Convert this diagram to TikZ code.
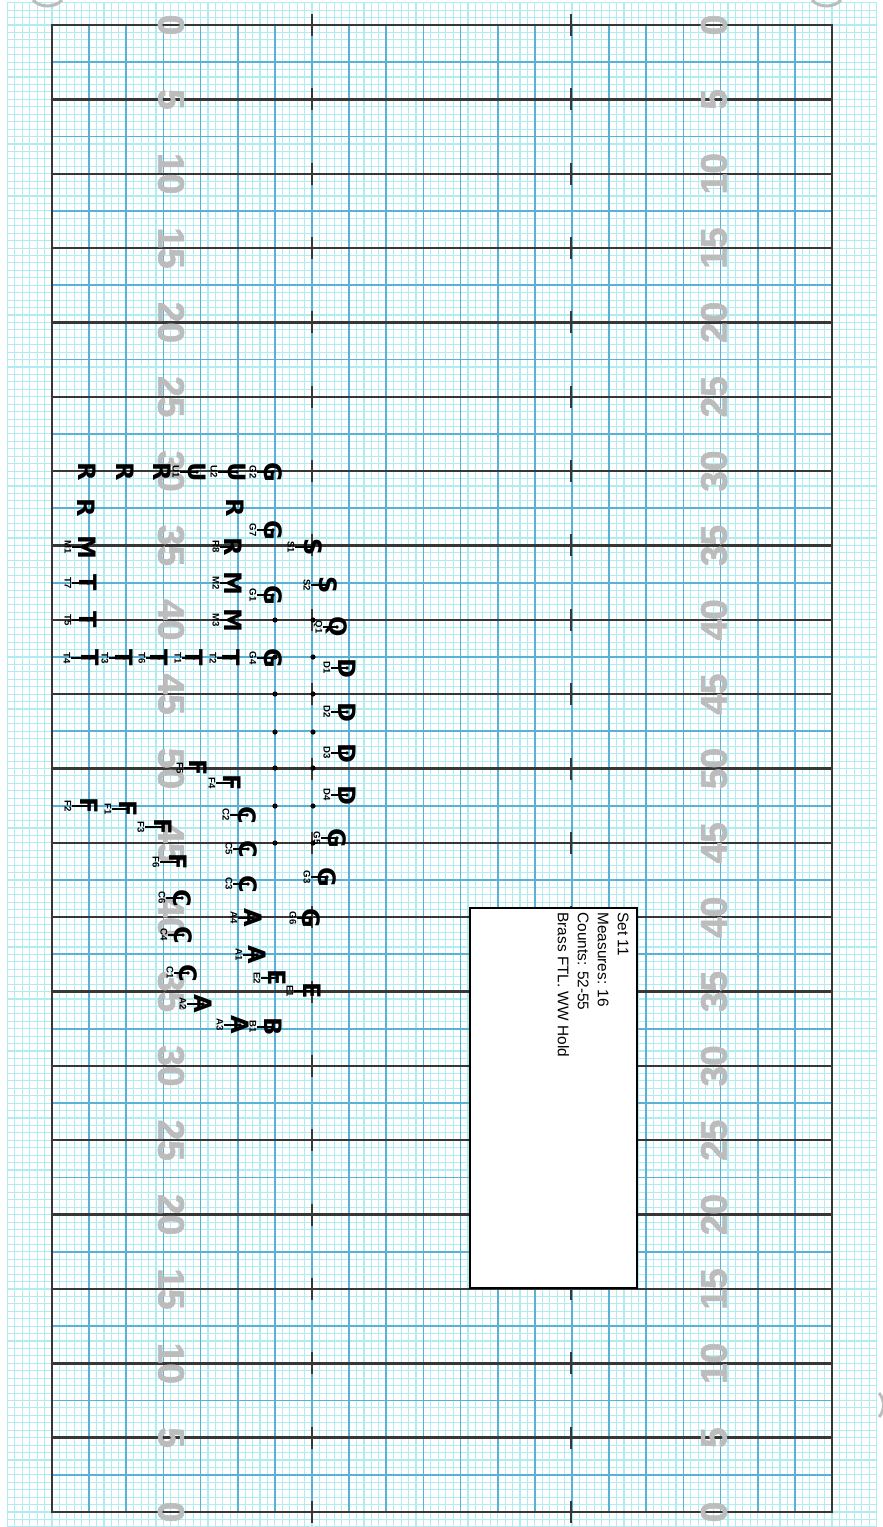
\documentclass[tikz,border=0pt]{standalone}
\usepackage{fontspec}
\setmainfont{Liberation Sans}
\newfontfamily\heavyfont{DejaVu Sans}
\newfontfamily\numfont[FakeBold=1.6]{Liberation Sans Bold}
\definecolor{finec}{RGB}{178,236,243}
\definecolor{bluec}{RGB}{88,178,214}
\definecolor{darkc}{RGB}{55,55,55}
\definecolor{numgray}{RGB}{188,188,188}
\newcommand\perfm[6]{% name, x, y, letter, label x, label
  \node[lab] (#1l) at (#5,#3) {#6};
  \draw[lead] (#1l.north) -- (#2,#3);
  \node[letter] (#1) at (#2,#3) {#4};
  \node[cdot] (#1d) at (#2,#3) {};
}
\newcommand\perfn[4]{% name, x, y, letter
  \node[letter] (#1) at (#2,#3) {#4};
}
\begin{document}
\begin{tikzpicture}[x=0.5pt,y=-0.5pt,
  finel/.style={draw=finec,line width=0.55pt},
  bluel/.style={draw=bluec,line width=0.9pt},
  darkl/.style={draw=darkc,line width=1.2pt},
  ynum/.style={text=numgray,font=\numfont\fontsize{18.5}{20}\selectfont,inner sep=0},
  letter/.style={font=\heavyfont\fontsize{12}{12}\selectfont\bfseries,rotate=-90,inner sep=0},
  lab/.style={font=\fontsize{4.8}{5}\selectfont\bfseries,rotate=-90,inner sep=0.3pt},
  lead/.style={draw=black,line width=0.55pt},
  gdot/.style={circle,fill=black,inner sep=0,minimum size=2.6pt},
  cdot/.style={circle,fill=black,inner sep=0,minimum size=1.8pt}
]
\useasboundingbox (0,0) rectangle (883,1527);
\fill[white] (0,0) rectangle (883,1527);
% fine grid
\foreach \k in {-6,...,111} \draw[finel] ({52+\k*37.143/5},3) -- ({52+\k*37.143/5},1527);
\foreach \k in {-3,...,202} \draw[finel] (7,{25+\k*37.175/5}) -- (877,{25+\k*37.175/5});
% field grid
\foreach \k in {1,...,20} \draw[bluel] ({52+\k*37.143},25) -- ({52+\k*37.143},1512);
\foreach \k in {1,3,...,39} \draw[bluel] (52,{25+\k*37.175}) -- (832,{25+\k*37.175});
\foreach \k in {2,4,...,38} \draw[darkl] (52,{25+\k*37.175}) -- (832,{25+\k*37.175});
\draw[darkl] (52,25) rectangle (832,1512);
% hash marks
\foreach \k in {0,2,...,40} {
  \draw[darkl,line width=1.3pt] (312,{25+\k*37.175-11}) -- ++(0,22);
  \draw[darkl,line width=1.3pt] (571,{25+\k*37.175-11}) -- ++(0,22);
}
% yard numbers
\foreach \n [count=\i from 0] in {0,5,10,15,20,25,30,35,40,45,50,45,40,35,30,25,20,15,10,5,0} {
  \node[ynum,rotate=-90] (nl\i) at (171,{25+\i*74.35}) {\n};
  \node[ynum,rotate=90] (nr\i) at (714,{25+\i*74.35}) {\n};
}
% corner marks
\draw[numgray,line width=1.5pt] (33,0) .. controls (40,8) and (55,8) .. (62,0);
\draw[numgray,line width=1.5pt] (812,0) .. controls (819,8) and (834,8) .. (841,0);
\draw[numgray,line width=1.5pt] (879,1393) .. controls (885,1400) and (885,1410) .. (879,1417);
% grid dots
\foreach \yy [count=\j] in {620,657,694,732,768,806,843} {
  \node[gdot] (da\j) at (275,\yy) {};
  \node[gdot] (db\j) at (313,\yy) {};
}
% performers
\perfn{r1}{87}{472}{R}
\perfn{r2}{125}{472}{R}
\perfn{r3}{162}{472}{R}
\perfm{U1}{197}{472}{U}{176}{U1}
\perfm{U2}{237}{472}{U}{214}{U2}
\perfm{G2}{273}{472}{G}{253}{G2}
\perfn{r4}{86}{508}{R}
\perfn{r5}{235}{508}{R}
\perfm{G7}{273}{530}{G}{253}{G7}
\perfm{M1}{87}{547}{M}{68}{M1}
\perfm{R8}{233}{547}{R}{216}{R8}
\perfm{S1}{313}{547}{S}{291}{S1}
\perfm{T7}{88}{583}{T}{68}{T7}
\perfm{M2}{233}{583}{M}{216}{M2}
\perfm{S2}{328}{585}{S}{307}{S2}
\perfm{G1}{273}{595}{G}{253}{G1}
\perfm{T5}{88}{620}{T}{68}{T5}
\perfm{M3}{233}{620}{M}{216}{M3}
\perfm{Q1}{337}{627}{Q}{318}{Q1}
\perfm{T4}{90}{658}{T}{67}{T4}
\perfm{T3}{124}{658}{T}{105}{T3}
\perfm{T6}{159}{658}{T}{142}{T6}
\perfm{T1}{194}{658}{T}{178}{T1}
\perfm{T2}{231}{658}{T}{213}{T2}
\perfm{G4}{273}{658}{G}{253}{G4}
\perfm{D1}{347}{668}{D}{327}{D1}
\perfm{D2}{347}{712}{D}{327}{D2}
\perfm{D3}{347}{753}{D}{327}{D3}
\perfm{D4}{347}{795}{D}{327}{D4}
\perfm{F5}{198}{768}{F}{180}{F5}
\perfm{F4}{232}{783}{F}{212}{F4}
\perfm{F2}{89}{806}{F}{68}{F2}
\perfm{F1}{128}{809}{F}{108}{F1}
\perfm{F3}{163}{827}{F}{141}{F3}
\perfm{F6}{178}{862}{F}{156}{F6}
\perfm{C2}{247}{815}{C}{226}{C2}
\perfm{C5}{248}{849}{C}{229}{C5}
\perfm{C3}{248}{884}{C}{229}{C3}
\perfm{C6}{182}{898}{C}{162}{C6}
\perfm{C4}{183}{935}{C}{164}{C4}
\perfm{C1}{188}{973}{C}{170}{C1}
\perfm{A4}{253}{918}{A}{234}{A4}
\perfm{A1}{257}{955}{A}{239}{A1}
\perfm{A2}{203}{1004}{A}{183}{A2}
\perfm{A3}{240}{1025}{A}{220}{A3}
\perfm{B1}{273}{1027}{B}{253}{B1}
\perfm{E2}{277}{978}{E}{257}{E2}
\perfm{E1}{312}{991}{E}{290}{E1}
\perfm{G5}{337}{838}{G}{317}{G5}
\perfm{G3}{327}{877}{G}{307}{G3}
\perfm{G6}{311}{918}{G}{293}{G6}
% info box
\node[draw=black,fill=white,line width=0.7pt,minimum width=83.5pt,minimum height=190pt,inner sep=0] (box) at (553.5,1098) {};
\node[rotate=-90,anchor=north west,align=left,font=\fontsize{7.7}{10}\selectfont,inner sep=0] (info) at (629,912) {Set 11\\Measures: 16\\Counts: 52-55\\Brass FTL. WW Hold};
\end{tikzpicture}
\end{document}
